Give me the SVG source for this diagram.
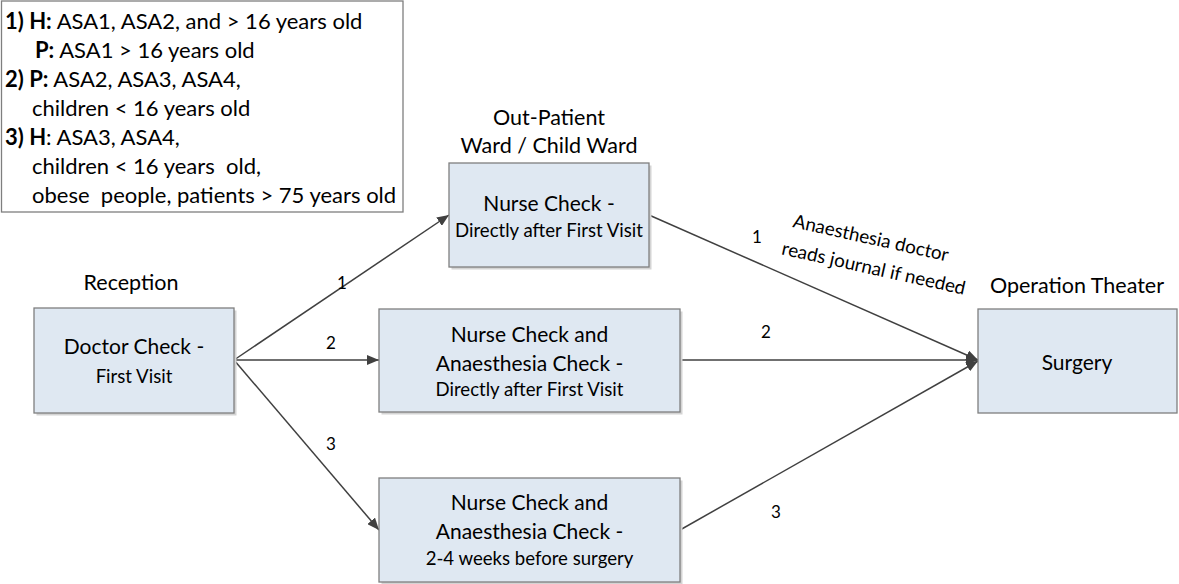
<svg xmlns="http://www.w3.org/2000/svg" width="1179" height="584" viewBox="0 0 1179 584">
  <style>
    text { font-family: Lato, "Liberation Sans", sans-serif; fill: #000; }
    .box { fill: #dfe8f2; stroke: #7f7f7f; stroke-width: 1.3; }
    .shadow { fill: #d4d4d4; }
    .main { font-size: 21px; text-anchor: middle; }
    .sub { font-size: 18.6px; text-anchor: middle; }
    .title { font-size: 21.5px; text-anchor: middle; }
    .num { font-size: 17px; text-anchor: middle; }
    .note { font-size: 18.8px; }
    .legend { font-size: 22px; }
    .b { font-weight: bold; }
    .conn { stroke: #404040; stroke-width: 1.5; fill: none; marker-end: url(#arrow); }
  </style>
  <defs>
    <marker id="arrow" viewBox="0 0 12 10" refX="12" refY="5" markerWidth="12" markerHeight="10" markerUnits="userSpaceOnUse" orient="auto">
      <path d="M0,0 L12,5 L0,10 z" fill="#404040"/>
    </marker>
  </defs>
  <rect width="1179" height="584" fill="#fff"/>

  <!-- legend -->
  <g id="legend">
    <rect x="1.5" y="1" width="401.5" height="211" fill="#fff" stroke="#7f7f7f" stroke-width="1.3"/>
    <text class="legend" x="5" y="28.5"><tspan class="b">1) H:</tspan> ASA1, ASA2, and &gt; 16 years old</text>
    <text class="legend" x="35" y="57.5"><tspan class="b">P:</tspan> ASA1 &gt; 16 years old</text>
    <text class="legend" x="5" y="86.5"><tspan class="b">2) P:</tspan> ASA2, ASA3, ASA4,</text>
    <text class="legend" x="32" y="115.5">children &lt; 16 years old</text>
    <text class="legend" x="5" y="144.5"><tspan class="b">3) H</tspan>: ASA3, ASA4,</text>
    <text class="legend" x="32" y="173.5" xml:space="preserve">children &lt; 16 years  old,</text>
    <text class="legend" x="32" y="202.5" xml:space="preserve">obese  people, patients &gt; 75 years old</text>
  </g>

  <!-- connectors -->
  <g id="connectors">
    <line class="conn" x1="234" y1="360" x2="449" y2="215"/>
    <line class="conn" x1="234" y1="360" x2="379" y2="360"/>
    <line class="conn" x1="234" y1="360" x2="379" y2="530"/>
    <line class="conn" x1="649" y1="215" x2="978" y2="360"/>
    <line class="conn" x1="680" y1="360" x2="978" y2="360"/>
    <line class="conn" x1="680" y1="530" x2="978" y2="361"/>
    <text class="num" x="342" y="289">1</text>
    <text class="num" x="331" y="349">2</text>
    <text class="num" x="331" y="450">3</text>
    <text class="num" x="757" y="243">1</text>
    <text class="num" x="766" y="338">2</text>
    <text class="num" x="776" y="518">3</text>
    <g transform="translate(792,227) rotate(12.5)">
      <text class="note" x="0" y="0">Anaesthesia doctor</text>
      <text class="note" x="-5" y="29">reads journal if needed</text>
    </g>
  </g>

  <!-- reception -->
  <g id="doctor-check">
    <text class="title" x="131" y="289.5">Reception</text>
    <rect class="shadow" x="36.5" y="310.5" width="200" height="105"/>
    <rect class="box" x="34" y="308" width="200" height="105"/>
    <text class="main" x="134" y="353.5">Doctor Check -</text>
    <text class="sub" x="134" y="382.5">First Visit</text>
  </g>

  <!-- out-patient ward -->
  <g id="nurse-check">
    <text class="title" x="549" y="124.5">Out-Patient</text>
    <text class="title" x="549" y="152.5">Ward / Child Ward</text>
    <rect class="shadow" x="451.5" y="165.5" width="200" height="104"/>
    <rect class="box" x="449" y="163" width="200" height="104"/>
    <text class="main" x="549" y="210.5">Nurse Check -</text>
    <text class="sub" x="549" y="236.5">Directly after First Visit</text>
  </g>

  <g id="nurse-anaesthesia-direct">
    <rect class="shadow" x="381.5" y="311.5" width="301" height="103"/>
    <rect class="box" x="379" y="309" width="301" height="103"/>
    <text class="main" x="529.5" y="341.5">Nurse Check and</text>
    <text class="main" x="529.5" y="370.5">Anaesthesia Check -</text>
    <text class="sub" x="529.5" y="395.5">Directly after First Visit</text>
  </g>

  <g id="nurse-anaesthesia-weeks">
    <rect class="shadow" x="381.5" y="480.5" width="301" height="104"/>
    <rect class="box" x="379" y="478" width="301" height="104"/>
    <text class="main" x="529.5" y="509.5">Nurse Check and</text>
    <text class="main" x="529.5" y="538.5">Anaesthesia Check -</text>
    <text class="sub" x="529.5" y="564.5">2-4 weeks before surgery</text>
  </g>

  <!-- operation theater -->
  <g id="surgery">
    <text class="title" x="1077" y="292.5">Operation Theater</text>
    <rect class="box" x="978" y="309" width="199" height="104"/>
    <text class="main" x="1077" y="369.5">Surgery</text>
  </g>
</svg>
